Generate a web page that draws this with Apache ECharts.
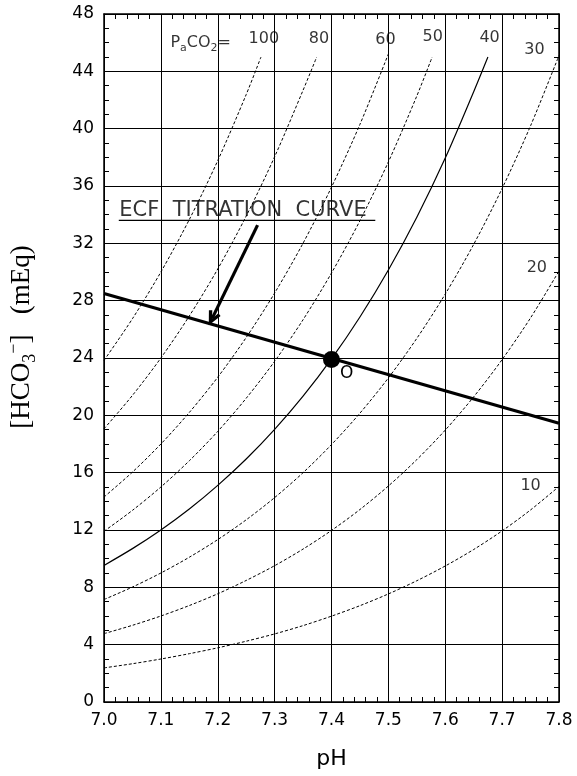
<!DOCTYPE html>
<html lang="en">
<head>
    <meta charset="UTF-8">
    <title>HCO3 - pH</title>
    <script src="https://cdn.jsdelivr.net/npm/echarts@6/dist/echarts.min.js"></script>
    <style type="text/css">
        *{
            padding: 0px;
            margin: 0px;
            border: 0px;
        }
        #chart{
            width: 577px;
            height: 776px;
            background: #fff;
        }
    </style>
</head>
<body>
<div id="chart"></div>
<script>

    // pH steps read along the x axis
    var ph = [7.00, 7.05, 7.10, 7.15, 7.20, 7.25, 7.30, 7.35, 7.40, 7.45, 7.50, 7.55, 7.60, 7.65, 7.70, 7.75, 7.80];

    // isobars, [HCO3-] read at each pH step
    var pco2_10  = [2.38, 2.67, 3.00, 3.37, 3.78, 4.24, 4.75, 5.33, 5.99, 6.72, 7.54, 8.46, 9.49, 10.64, 11.94, 13.40, 15.04];
    var pco2_20  = [4.77, 5.35, 6.00, 6.73, 7.55, 8.48, 9.51, 10.67, 11.97, 13.43, 15.07, 16.91, 18.97, 21.29, 23.89, 26.80, 30.07];
    var pco2_30  = [7.15, 8.02, 9.00, 10.10, 11.33, 12.71, 14.26, 16.00, 17.96, 20.15, 22.61, 25.37, 28.46, 31.93, 35.83, 40.20, 45.11];
    var pco2_40  = [9.53, 10.70, 12.00, 13.46, 15.11, 16.95, 19.02, 21.34, 23.94, 26.86, 30.14, 33.82, 37.95, 42.58];
    var pco2_50  = [11.91, 13.37, 15.00, 16.83, 18.88, 21.19, 23.77, 26.67, 29.93, 33.58, 37.68, 42.28];
    var pco2_60  = [14.30, 16.04, 18.00, 20.20, 22.66, 25.43, 28.53, 32.01, 35.92, 40.30, 45.21];
    var pco2_80  = [19.06, 21.39, 24.00, 26.93, 30.21, 33.90, 38.04, 42.68];
    var pco2_100 = [23.83, 26.74, 30.00, 33.66, 37.77, 42.38];

    // where the curves stop at the top (pH, HCO3)
    var end_40  = [7.675, 45.0];
    var end_50  = [7.577, 45.0];
    var end_80  = [7.374, 45.0];
    var end_100 = [7.276, 45.0];

    // ECF titration curve
    var titration = [[7.0, 28.5], [7.8, 19.45]];
    var normalPoint = [[7.4, 23.9]];
    var arrowFrom = [7.27, 33.27];
    var arrowTo = [7.19, 26.75];
    var underline = [[7.026, 33.6], [7.477, 33.6]];

    // curve labels: text, pH, HCO3
    var curveLabels = [
        ['100', 7.281, 46.24],
        ['80', 7.378, 46.3],
        ['60', 7.495, 46.2],
        ['50', 7.578, 46.4],
        ['40', 7.678, 46.35],
        ['30', 7.757, 45.5],
        ['20', 7.761, 30.3],
        ['10', 7.750, 15.05]
    ];

    var ink = '#000';
    var sans = 'DejaVu Sans';

    function pairs(values, end) {
        var out = values.map(function (v, i) { return [ph[i], v]; });
        if (end) out.push(end);
        return out;
    }

    function isobar(name, values, end, solid) {
        return {
            name: name,
            type: 'line',
            data: pairs(values, end),
            smooth: 0.3,
            symbol: 'none',
            silent: true,
            lineStyle: {color: ink, width: solid ? 1.2 : 1, type: solid ? 'solid' : [3, 2]}
        };
    }

    function frameAxis(pos, extra) {
        var a = {
            type: 'value',
            position: pos,
            axisLine: {show: true, onZero: false, lineStyle: {color: ink, width: 1.5}},
            axisTick: {show: true, inside: true, length: 5, lineStyle: {color: ink}},
            minorTick: {show: true, length: 5, lineStyle: {color: ink}},
            axisLabel: {show: false},
            splitLine: {show: false}
        };
        for (var k in extra) a[k] = extra[k];
        a.minorTick.splitNumber = extra.minorSplit;
        return a;
    }

    var xMain = frameAxis('bottom', {min: 7.0, max: 7.8, interval: 0.1, minorSplit: 5});
    xMain.axisLabel = {show: true, color: ink, fontFamily: sans, fontSize: 17, margin: 10,
        formatter: function (v) { return v.toFixed(1); }};
    xMain.splitLine = {show: true, lineStyle: {color: ink, width: 1}};
    xMain.name = 'pH';
    xMain.nameLocation = 'middle';
    xMain.nameGap = 46;
    xMain.nameTextStyle = {color: ink, fontFamily: sans, fontSize: 22};
    var xTop = frameAxis('top', {min: 7.0, max: 7.8, interval: 0.1, minorSplit: 5});

    var yMain = frameAxis('left', {min: 0, max: 48, interval: 4, minorSplit: 4});
    yMain.axisLabel = {show: true, color: ink, fontFamily: sans, fontSize: 17, margin: 10};
    yMain.splitLine = {show: true, lineStyle: {color: ink, width: 1}};
    var yRight = frameAxis('right', {min: 0, max: 48, interval: 4, minorSplit: 4});

    var labelData = curveLabels.map(function (d) { return {name: d[0], value: [d[1], d[2]]}; });

    var option = {
        animation: false,
        backgroundColor: '#fff',
        grid: {left: 104, right: 18, top: 14, bottom: 74},
        xAxis: [xMain, xTop],
        yAxis: [yMain, yRight],
        series: [
            isobar('10', pco2_10, null, false),
            isobar('20', pco2_20, null, false),
            isobar('30', pco2_30, null, false),
            isobar('40', pco2_40, end_40, true),
            isobar('50', pco2_50, end_50, false),
            isobar('60', pco2_60, null, false),
            isobar('80', pco2_80, end_80, false),
            isobar('100', pco2_100, end_100, false),
            {
                name: 'ECF titration',
                type: 'line',
                data: titration,
                symbol: 'none',
                silent: true,
                z: 5,
                lineStyle: {color: ink, width: 3.2},
                markLine: {
                    silent: true,
                    symbol: ['none', 'path://M5,0L10,10L7.6,11L5,5.4L2.4,11L0,10Z'],
                    symbolSize: [13, 15],
                    label: {show: false},
                    lineStyle: {color: ink, width: 3.2, type: 'solid'},
                    data: [[{coord: arrowFrom}, {coord: arrowTo}]]
                }
            },
            {
                name: 'underline',
                type: 'line',
                data: underline,
                symbol: 'none',
                silent: true,
                lineStyle: {color: ink, width: 1.2}
            },
            {
                name: 'normal',
                type: 'scatter',
                data: normalPoint,
                symbolSize: 17,
                z: 6,
                itemStyle: {color: ink, opacity: 1},
                label: {show: true, position: [17, 14], formatter: 'O', color: ink,
                    fontFamily: sans, fontSize: 17}
            },
            {
                name: 'labels',
                type: 'scatter',
                data: labelData,
                symbolSize: 1,
                silent: true,
                itemStyle: {color: 'rgba(0,0,0,0)'},
                label: {show: true, position: 'inside', formatter: '{b}', color: ink,
                    fontFamily: sans, fontSize: 16}
            },
            {
                name: 'pco2 text',
                type: 'scatter',
                data: [{name: 'pco2', value: [7.17, 46.0]}],
                symbolSize: 1,
                silent: true,
                itemStyle: {color: 'rgba(0,0,0,0)'},
                label: {
                    show: true,
                    position: 'inside',
                    formatter: '{n|P}{s|a}{n|CO}{s|2}{n|=}',
                    rich: {
                        n: {fontSize: 16, fontFamily: sans, color: ink, lineHeight: 22},
                        s: {fontSize: 11, fontFamily: sans, color: ink, lineHeight: 22, verticalAlign: 'bottom'}
                    }
                }
            },
            {
                name: 'ecf text',
                type: 'scatter',
                data: [{name: 'ECF  TITRATION  CURVE', value: [7.026, 34.3]}],
                symbolSize: 1,
                silent: true,
                itemStyle: {color: 'rgba(0,0,0,0)'},
                label: {show: true, position: 'right', distance: 0, formatter: '{b}', color: ink,
                    fontFamily: sans, fontSize: 21}
            }
        ],
        graphic: [{
            type: 'text',
            x: 22,
            y: 337,
            rotation: Math.PI / 2,
            style: {
                text: '{n|[HCO}{s|3}{u|\u2212}{n|]   (mEq)}',
                align: 'center',
                verticalAlign: 'middle',
                textAlign: 'center',
                textVerticalAlign: 'middle',
                fill: ink,
                rich: {
                    n: {fontSize: 27, fontFamily: 'Liberation Serif', fill: ink, lineHeight: 34},
                    s: {fontSize: 18, fontFamily: 'Liberation Serif', fill: ink, lineHeight: 34, verticalAlign: 'bottom'},
                    u: {fontSize: 18, fontFamily: 'Liberation Serif', fill: ink, lineHeight: 34, verticalAlign: 'top'}
                }
            }
        }]
    };

    var chart = echarts.init(document.getElementById('chart'));
    chart.setOption(option);

</script>
</body>
</html>
